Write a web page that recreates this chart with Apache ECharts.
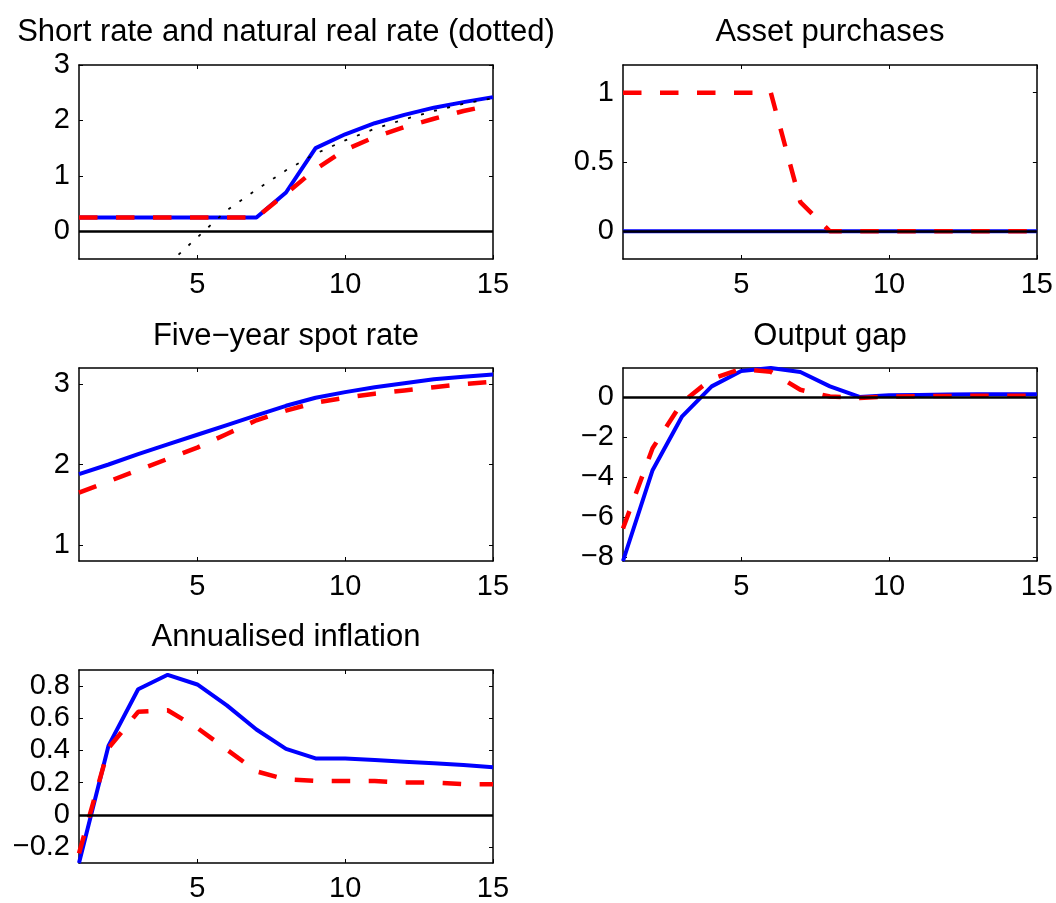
<!DOCTYPE html>
<html><head><meta charset="utf-8">
<script src="https://cdn.jsdelivr.net/npm/echarts@6/dist/echarts.min.js"></script>
<style>html,body{margin:0;padding:0;background:#fff}#c{width:1056px;height:903px}</style>
</head><body><div id="c"></div>
<script>
// ---- data ----
const periods = [1,2,3,4,5,6,7,8,9,10,11,12,13,14,15];
const xTicks = [5,10,15];

const shortRateBlue = [0.25,0.25,0.25,0.25,0.25,0.25,0.25,0.70,1.50,1.75,1.95,2.10,2.23,2.33,2.42];
const shortRateRed  = [0.25,0.25,0.25,0.25,0.25,0.25,0.25,0.68,1.12,1.47,1.70,1.88,2.03,2.17,2.28];
const naturalRate   = [-2.40,-1.70,-1.10,-0.60,-0.11,0.38,0.75,1.10,1.40,1.64,1.85,2.02,2.17,2.30,2.40];
const shortRateTicks = [0,1,2,3];

const assetBlue = [0,0,0,0,0,0,0,0,0,0,0,0,0,0,0];
const assetRed  = [1,1,1,1,1,1,0.21,0,0,0,0,0,0,0,0];
const assetTicks = [0,0.5,1];

const spotBlue = [1.88,2.00,2.13,2.25,2.37,2.49,2.61,2.73,2.83,2.90,2.96,3.01,3.06,3.09,3.12];
const spotRed  = [1.65,1.79,1.93,2.07,2.21,2.38,2.55,2.67,2.77,2.83,2.88,2.92,2.96,3.00,3.03];
const spotTicks = [1,2,3];

const gapBlue = [-8.2,-3.65,-0.95,0.55,1.32,1.47,1.27,0.55,0.02,0.10,0.12,0.14,0.15,0.15,0.15];
const gapRed  = [-6.57,-2.55,-0.25,0.93,1.42,1.28,0.38,0.04,-0.03,0.04,0.06,0.07,0.08,0.08,0.08];
const gapTicks = [-8,-6,-4,-2,0];

const inflBlue = [-0.30,0.43,0.78,0.87,0.81,0.68,0.53,0.41,0.35,0.35,0.34,0.33,0.32,0.31,0.295];
const inflRed  = [-0.24,0.415,0.64,0.65,0.54,0.405,0.27,0.22,0.21,0.21,0.21,0.20,0.20,0.19,0.19];
const inflTicks = [-0.2,0,0.2,0.4,0.6,0.8];

const titles = ['Short rate and natural real rate (dotted)','Asset purchases','Five\u2212year spot rate','Output gap','Annualised inflation'];

// ---- layout / style ----
const FONT = '"Liberation Sans", Arial, Helvetica, sans-serif';
const TICK_FS = 29, TITLE_FS = 31;
const panels = [
  {left:79,  top:65,  width:414, height:194, titleTop:17,  ymin:-0.5, ymax:3,    yt:shortRateTicks, blue:shortRateBlue, red:shortRateRed, dotted:naturalRate},
  {left:623, top:65,  width:414, height:194, titleTop:17,  ymin:-0.2, ymax:1.2,  yt:assetTicks, blue:assetBlue, red:assetRed},
  {left:79,  top:368, width:414, height:193, titleTop:321, ymin:0.8,  ymax:3.2,  yt:spotTicks, blue:spotBlue, red:spotRed},
  {left:623, top:368, width:414, height:193, titleTop:321, ymin:-8.2, ymax:1.47, yt:gapTicks, blue:gapBlue, red:gapRed},
  {left:79,  top:670, width:414, height:194, titleTop:622, ymin:-0.3, ymax:0.9,  yt:inflTicks, blue:inflBlue, red:inflRed}
];

const fmt = v => String(v).replace('-', '\u2212');
const pairs = arr => periods.map((p,i)=>[p, arr[i]]);
const axisLine = {show:true, onZero:false, lineStyle:{color:'#000', width:1.5}};

const grid=[], xAxis=[], yAxis=[], series=[], title=[];
panels.forEach((P,i)=>{
  grid.push({left:P.left, top:P.top, width:P.width, height:P.height, containLabel:false});
  title.push({text:titles[i], left:P.left+P.width/2, top:P.titleTop, textAlign:'center', padding:0,
    textStyle:{fontSize:TITLE_FS, fontWeight:'normal', color:'#000', fontFamily:FONT}});
  ['bottom','top'].forEach(pos=>{
    xAxis.push({type:'value', gridIndex:i, min:1, max:15, position:pos,
      axisLine, splitLine:{show:false},
      axisTick:{show:true, inside:true, length:4, customValues:xTicks, lineStyle:{color:'#000', width:1}},
      axisLabel:{show:pos==='bottom', customValues:xTicks, margin:11, fontSize:TICK_FS, color:'#000', fontFamily:FONT, formatter:fmt}});
  });
  ['left','right'].forEach(pos=>{
    yAxis.push({type:'value', gridIndex:i, min:P.ymin, max:P.ymax, position:pos,
      axisLine, splitLine:{show:false},
      axisTick:{show:true, inside:true, length:4, customValues:P.yt, lineStyle:{color:'#000', width:1}},
      axisLabel:{show:pos==='left', customValues:P.yt, margin:9, fontSize:TICK_FS, color:'#000', fontFamily:FONT, formatter:fmt}});
  });
  const xi = i*2, yi = i*2;
  series.push({type:'line', xAxisIndex:xi, yAxisIndex:yi, data:pairs(P.blue), symbol:'none', z:2,
    lineStyle:{color:'#0000ff', width:4, type:'solid'}});
  series.push({type:'line', xAxisIndex:xi, yAxisIndex:yi, data:pairs(P.red), symbol:'none', z:3,
    lineStyle:{color:'#ff0000', width:4.5, type:[18.5,18.5], cap:'butt'}});
  if (P.dotted) {
    series.push({type:'line', xAxisIndex:xi, yAxisIndex:yi, data:pairs(P.dotted), symbol:'none', z:4,
      lineStyle:{color:'#000', width:1.8, type:[3,10.5]}});
  }
  series.push({type:'line', xAxisIndex:xi, yAxisIndex:yi, data:[], z:5,
    markLine:{silent:true, symbol:['none','none'], label:{show:false}, animation:false,
      lineStyle:{color:'#000', width:2.5, type:'solid'}, data:[{yAxis:0}]}});
});

const chart = echarts.init(document.getElementById('c'), null, {renderer:'canvas'});
chart.setOption({animation:false, backgroundColor:'#fff', title, grid, xAxis, yAxis, series});
</script></body></html>
